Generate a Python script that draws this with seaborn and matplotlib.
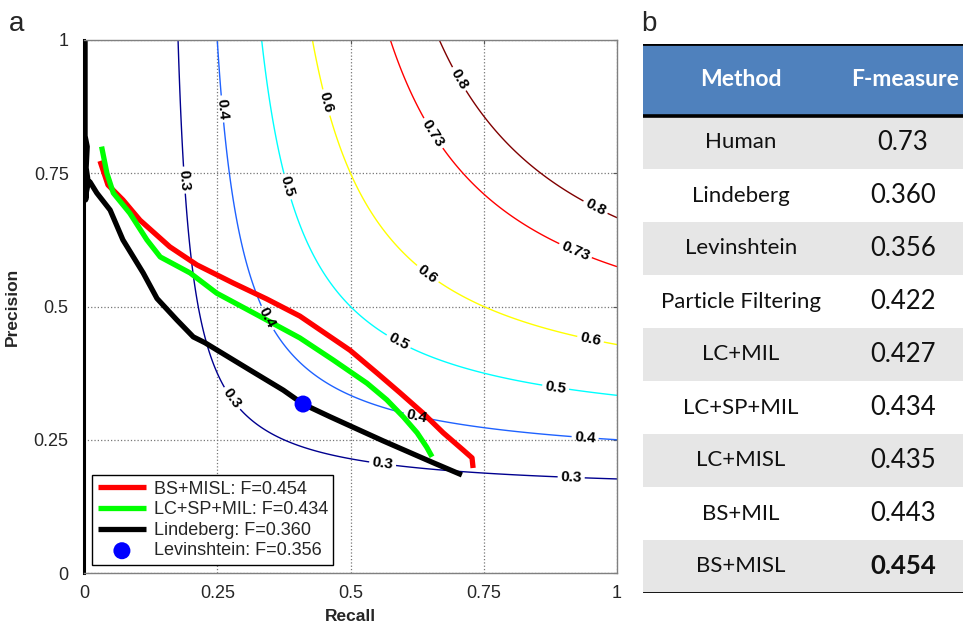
import numpy as np
import matplotlib
matplotlib.use("Agg")
import matplotlib.pyplot as plt
import seaborn as sns

# precision / recall curves
bs_misl_recall = [0.030, 0.045, 0.073, 0.105, 0.161, 0.212, 0.280, 0.343, 0.405, 0.499, 0.550, 0.593, 0.636, 0.674, 0.711, 0.728, 0.730]
bs_misl_precision = [0.773, 0.728, 0.700, 0.662, 0.612, 0.578, 0.544, 0.514, 0.482, 0.418, 0.375, 0.338, 0.300, 0.263, 0.231, 0.216, 0.197]

lcsp_recall = [0.033, 0.043, 0.055, 0.086, 0.118, 0.143, 0.199, 0.249, 0.318, 0.405, 0.467, 0.531, 0.568, 0.599, 0.625, 0.643, 0.653]
lcsp_precision = [0.800, 0.750, 0.713, 0.675, 0.625, 0.593, 0.563, 0.525, 0.488, 0.441, 0.400, 0.356, 0.325, 0.293, 0.263, 0.236, 0.218]

lind_recall = [0.002, 0.002, 0.006, 0.004, 0.007, 0.003, 0.006, 0.011, 0.024, 0.049, 0.073, 0.111, 0.137, 0.174, 0.205, 0.227, 0.311, 0.374, 0.411, 0.462, 0.561, 0.655, 0.709]
lind_precision = [1.000, 0.820, 0.800, 0.760, 0.740, 0.700, 0.730, 0.734, 0.713, 0.681, 0.625, 0.563, 0.515, 0.475, 0.443, 0.432, 0.381, 0.343, 0.317, 0.293, 0.248, 0.207, 0.184]

lev_recall = [0.411]
lev_precision = [0.317]

iso_f_levels = [0.3, 0.4, 0.5, 0.6, 0.73, 0.8]
iso_f_colors = ['#00008f', '#1f62ff', '#00ffff', '#ffff00', '#ff0000', '#800000']
ticks = [0, 0.25, 0.5, 0.75, 1]
tick_labels = ["0", "0.25", "0.5", "0.75", "1"]

# table (panel b)
methods = ["Human", "Lindeberg", "Levinshtein", "Particle Filtering", "LC+MIL",
           "LC+SP+MIL", "LC+MISL", "BS+MIL", "BS+MISL"]
f_measures = ["0.73", "0.360", "0.356", "0.422", "0.427", "0.434", "0.435", "0.443", "0.454"]

sns.set_style("white")
plt.rcParams['font.family'] = ['Liberation Sans', 'DejaVu Sans']

fig = plt.figure(figsize=(9.63, 6.26), dpi=100)
ax = fig.add_axes([84/963, 53/626, 533/963, 533/626])

# iso F-measure contours
r = np.linspace(0.001, 1, 500)
R, P = np.meshgrid(r, r)
F = 2 * P * R / (P + R)
cs = ax.contour(R, P, F, levels=iso_f_levels, colors=iso_f_colors, linewidths=1.0)
label_spots = [(0.186, 0.737), (0.274, 0.325), (0.56, 0.203), (0.914, 0.178),
               (0.242, 0.869), (0.343, 0.478), (0.625, 0.296), (0.94, 0.251),
               (0.377, 0.724), (0.589, 0.432), (0.884, 0.343),
               (0.452, 0.882), (0.643, 0.559), (0.95, 0.437),
               (0.655, 0.825), (0.921, 0.602),
               (0.704, 0.927), (0.959, 0.685)]
clabels = ax.clabel(cs, inline=True, fmt='%g', fontsize=11, colors='black',
                    manual=label_spots, inline_spacing=3)
for t in clabels:
    t.set_fontweight('bold')

sns.lineplot(x=bs_misl_recall, y=bs_misl_precision, sort=False, estimator=None, ax=ax,
             color='#ff0000', lw=3.8, label='BS+MISL: F=0.454', solid_capstyle='butt')
sns.lineplot(x=lcsp_recall, y=lcsp_precision, sort=False, estimator=None, ax=ax,
             color='#00ff00', lw=3.8, label='LC+SP+MIL: F=0.434', solid_capstyle='butt')
sns.lineplot(x=lind_recall, y=lind_precision, sort=False, estimator=None, ax=ax,
             color='black', lw=3.8, label='Lindeberg: F=0.360', solid_capstyle='butt')
sns.scatterplot(x=lev_recall, y=lev_precision, ax=ax, color='#0000ff', s=150,
                edgecolor='none', label='Levinshtein: F=0.356', zorder=5)

ax.set_xlim(0, 1)
ax.set_ylim(0, 1)
ax.set_xticks(ticks)
ax.set_xticklabels(tick_labels, fontsize=13)
ax.set_yticks(ticks)
ax.set_yticklabels(tick_labels, fontsize=13)
ax.tick_params(direction='in', top=True, right=True, length=3, color='#555555')
ax.tick_params(axis='x', pad=9)
ax.tick_params(axis='y', pad=11)
ax.grid(True, linestyle=':', color='#777777', lw=0.9)
for side in ['top', 'right', 'bottom']:
    ax.spines[side].set_color('#808080')
    ax.spines[side].set_linewidth(1.0)
ax.spines['left'].set_color('black')
ax.spines['left'].set_linewidth(2.2)
ax.set_xlabel('Recall', fontsize=12.5, fontweight='bold', labelpad=5)
ax.set_ylabel('Precision', fontsize=12.5, fontweight='bold', labelpad=10)

leg = ax.legend(loc='lower left', fontsize=13, frameon=True, fancybox=False,
                handlelength=2.7, labelspacing=0.2, borderaxespad=0.45,
                handletextpad=0.4, borderpad=0.3)
leg.get_frame().set_edgecolor('black')
leg.get_frame().set_linewidth(1.0)
leg.get_frame().set_alpha(1)

fig.text(17/963, 1 - 24/626, 'a', fontsize=20, ha='center', va='center')
fig.text(649/963, 1 - 24/626, 'b', fontsize=20, ha='center', va='center')

# table panel
tx = fig.add_axes([643/963, 33/626, 320/963, 549/626])
tx.set_xlim(0, 320)
tx.set_ylim(549, 0)
tx.axis('off')
header_h = 72
row_h = 53
table_font = ['Lato', 'DejaVu Sans']
tx.axhspan(0, header_h, color='#4f81bd', lw=0)
tx.text(98, header_h / 2, 'Method', color='white', fontsize=16.5, fontweight='bold',
        ha='center', va='center', family=table_font)
tx.text(262, header_h / 2, 'F-measure', color='white', fontsize=16.5, fontweight='bold',
        ha='center', va='center', family=table_font)
for i, (m, f) in enumerate(zip(methods, f_measures)):
    top = header_h + i * row_h
    if i % 2 == 0:
        tx.axhspan(top, top + row_h, color='#e6e6e6', lw=0)
    yc = top + row_h / 2
    tx.text(98, yc, m, fontsize=16, ha='center', va='center', color='#111111',
            family=table_font)
    tx.text(260, yc, f, fontsize=18.5, ha='center', va='center', color='#111111',
            fontweight='bold' if m == 'BS+MISL' else 'normal', family=table_font)
tx.axhline(0, color='black', lw=2)
tx.axhline(header_h, color='black', lw=2.6)
tx.axhline(header_h + row_h * len(methods), color='black', lw=2)

fig.savefig('out.png', dpi=100)
